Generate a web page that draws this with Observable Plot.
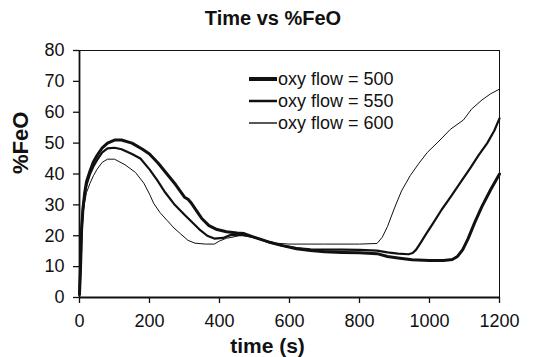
<!DOCTYPE html>
<html>
<head>
<meta charset="utf-8">
<script src="https://cdn.jsdelivr.net/npm/d3@7"></script>
<script src="https://cdn.jsdelivr.net/npm/@observablehq/plot@0.6"></script>
<style>
  body { margin: 0; background: #fff; font-family: "Liberation Sans", Arial, sans-serif; }
  #wrap { position: relative; width: 554px; height: 357px; }
  #title { height: 32px; width: 554px; text-align: center; font-weight: bold; font-size: 20px; line-height: 36px; color: #111; padding-right: 8px; box-sizing: border-box; }
  #legend { position: absolute; left: 249px; top: 68px; font-size: 18px; color: #111; }
  .row { height: 22px; display: flex; align-items: center; }
  .row svg { margin-right: 1px; }
</style>
</head>
<body>
<div id="wrap">
  <div id="title">Time vs %FeO</div>
  <div id="chart"></div>
  <div id="legend"></div>
</div>
<script>
const titleText = "Time vs %FeO";
const xLabel = "time (s)";
const yLabel = "%FeO";
const xTicks = [0, 200, 400, 600, 800, 1000, 1200];
const yTicks = [0, 10, 20, 30, 40, 50, 60, 70, 80];
const seriesNames = ["oxy flow = 500", "oxy flow = 550", "oxy flow = 600"];

const time500 = [0,3,6,10,15,20,30,40,50,65,80,100,120,150,180,200,225,250,275,300,310,320,335,350,370,393,420,450,470,500,540,580,620,660,700,750,800,850,880,910,950,1000,1040,1065,1080,1095,1110,1130,1150,1175,1200];
const feo500  = [1,10,22,29,34,37.5,41,44,46,48.5,50,51,51,50,48,46.5,43.5,40,36.5,32.5,31.8,30.5,28,25.5,23.3,22,21.3,20.9,20.7,19.5,18,16.8,15.8,15.2,14.8,14.6,14.5,14.2,13.3,12.8,12.2,12,12,12.3,13.3,15.5,19,24.5,29.5,35,40];

const time550 = [0,3,6,10,15,20,30,40,50,65,80,100,120,150,174,200,222,245,270,300,327,345,365,385,410,431,465,500,540,580,620,660,700,750,800,850,880,910,940,952,962,975,990,1010,1035,1060,1090,1117,1140,1165,1185,1200];
const feo550  = [1,10,22,29,33.5,36.5,40,42.5,44.5,47,48.3,48.5,48,46.5,45,41.5,38,34,30.3,26.8,23.8,21.8,20,19.1,19.3,20.2,20.3,19.5,18,16.8,16,15.6,15.5,15.5,15.4,15.2,14.6,14.2,14,14.4,15.5,17.8,20.5,24,28.5,32.5,37.5,42,46,50,54,58];

const time600 = [0,3,6,10,15,20,30,40,50,65,80,100,130,160,184,200,212,230,250,270,289,310,330,360,385,400,420,440,460,480,520,560,600,700,800,850,865,880,900,920,945,970,994,1030,1060,1097,1120,1150,1175,1200];
const feo600  = [1,10,21,27,31,34,37,39.5,41.5,43.8,44.8,44.8,43,40.5,37,33.5,30.5,27.5,25,22.5,20.6,18.5,17.6,17.3,17.3,18.3,19.2,19.6,20.2,19.8,18.8,17.6,17.3,17.3,17.3,17.5,19.5,23,29,34.5,39.5,43.5,47,51,54.5,57.5,61,64,66,67.5];

const lineWidths = [3, 2.2, 1];
const legendWidths = [4, 2.5, 1.4];
const lineColor = "#111";

const toRows = (ts, vs, name) => ts.map((t, i) => ({t, v: vs[i], name}));
const rows = [
  toRows(time500, feo500, seriesNames[0]),
  toRows(time550, feo550, seriesNames[1]),
  toRows(time600, feo600, seriesNames[2])
];

const chart = Plot.plot({
  width: 554,
  height: 325,
  marginLeft: 79,
  marginRight: 55,
  marginTop: 18,
  marginBottom: 60,
  style: {fontFamily: "'Liberation Sans', Arial, sans-serif", color: "#111", background: "transparent"},
  x: {domain: [0, 1200]},
  y: {domain: [0, 80]},
  marks: [
    Plot.frame({stroke: lineColor, strokeWidth: 1}),
    Plot.ruleX([0], {stroke: lineColor, strokeWidth: 1.8}),
    Plot.ruleY([0], {stroke: lineColor, strokeWidth: 1.8}),
    Plot.axisX({ticks: xTicks, tickFormat: d => String(d), tickSize: 6, tickPadding: 11, fontSize: 18, label: null, stroke: lineColor, strokeWidth: 1.3}),
    Plot.axisY({ticks: yTicks, tickFormat: d => String(d), tickSize: 6, tickPadding: 9, fontSize: 18, label: null, stroke: lineColor, strokeWidth: 1.3}),
    ...rows.map((r, i) => Plot.line(r, {x: "t", y: "v", stroke: lineColor, strokeWidth: lineWidths[i], strokeLinejoin: "round"})),
    Plot.text([xLabel], {frameAnchor: "bottom", dy: 55, dx: -22, fontSize: 21, fontWeight: "bold", fill: lineColor}),
    Plot.text([yLabel], {frameAnchor: "left", dx: -59, rotate: -90, fontSize: 22, fontWeight: "bold", fill: lineColor})
  ]
});
document.getElementById("chart").appendChild(chart);
document.getElementById("title").textContent = titleText;

const legend = document.getElementById("legend");
seriesNames.forEach((name, i) => {
  const row = document.createElement("div");
  row.className = "row";
  row.innerHTML = `<svg width="28" height="8"><line x1="0" x2="28" y1="4" y2="4" stroke="${lineColor}" stroke-width="${legendWidths[i]}"/></svg><span>${name}</span>`;
  legend.appendChild(row);
});
</script>
</body>
</html>
